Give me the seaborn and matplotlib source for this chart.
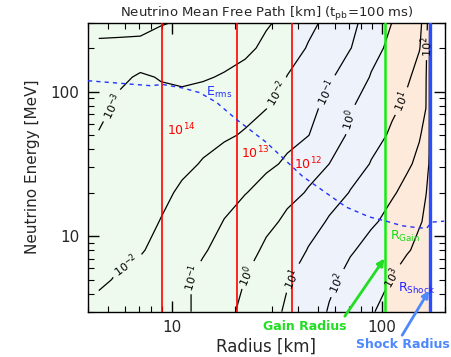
import numpy as np
import matplotlib
matplotlib.use('Agg')
import matplotlib.pyplot as plt
from matplotlib.ticker import NullFormatter
import seaborn as sns

# grid: log10 of mean free path [km]
radius_km = [4.5, 5.6, 7.1, 8.9, 11.2, 14.1, 17.8, 22.4, 28.2, 35.5, 44.7,
             56.2, 70.8, 89.1, 112, 132, 151, 162, 168, 174, 200]
energy_mev = [3, 5, 8, 12.6, 20, 31.6, 50, 79, 126, 200, 300]
log_mfp = [
    [-1.88, -1.70, -1.55, -1.35, -1.15, -0.78, -0.26, 0.25, 0.67, 1.13, 1.60, 2.06, 2.50, 2.93, 3.36, 3.60, 3.80, 3.90, 3.95, 4.5, 4.5],
    [-2.08, -1.95, -1.80, -1.48, -1.13, -0.81, -0.40, 0.00, 0.46, 0.92, 1.37, 1.82, 2.24, 2.63, 3.02, 3.29, 3.52, 3.64, 3.70, 4.5, 4.5],
    [-2.26, -2.13, -2.06, -1.77, -1.42, -1.08, -0.69, -0.31, 0.16, 0.58, 1.04, 1.47, 1.91, 2.30, 2.67, 2.94, 3.16, 3.27, 3.33, 4.5, 4.5],
    [-2.43, -2.28, -2.17, -1.98, -1.65, -1.34, -0.97, -0.65, -0.24, 0.19, 0.64, 1.09, 1.47, 1.86, 2.31, 2.65, 2.94, 3.09, 3.15, 4.5, 4.5],
    [-2.61, -2.44, -2.31, -2.15, -1.89, -1.64, -1.34, -1.03, -0.70, -0.30, 0.08, 0.56, 1.04, 1.46, 1.88, 2.31, 2.76, 2.98, 3.10, 4.5, 4.5],
    [-2.78, -2.61, -2.50, -2.40, -2.18, -1.94, -1.72, -1.47, -1.18, -0.86, -0.43, 0.00, 0.53, 1.05, 1.50, 1.81, 2.29, 2.77, 3.02, 4.5, 4.5],
    [-2.96, -2.77, -2.66, -2.61, -2.49, -2.30, -2.11, -1.92, -1.62, -1.30, -1.02, -0.44, 0.14, 0.64, 1.15, 1.55, 1.89, 2.40, 2.95, 4.5, 4.5],
    [-3.25, -2.87, -2.81, -2.78, -2.79, -2.69, -2.52, -2.33, -2.05, -1.64, -1.25, -0.75, -0.08, 0.38, 0.80, 1.20, 1.70, 1.95, 2.90, 4.5, 4.5],
    [-3.58, -3.15, -2.90, -3.05, -3.13, -3.07, -2.93, -2.74, -2.42, -1.98, -1.55, -1.12, -0.55, 0.06, 0.52, 0.84, 1.40, 1.88, 2.90, 4.5, 4.5],
    [-3.90, -3.81, -3.67, -3.60, -3.53, -3.47, -3.42, -3.20, -2.79, -2.36, -1.94, -1.48, -1.03, -0.34, 0.27, 0.63, 0.94, 1.64, 2.85, 4.5, 4.5],
    [-4.20, -4.32, -4.45, -4.07, -3.90, -3.83, -3.87, -3.60, -3.12, -2.68, -2.23, -1.74, -1.21, -0.62, 0.01, 0.46, 0.84, 1.30, 2.75, 4.5, 4.5],
]
contour_levels = [-4, -3, -2, -1, 0, 1, 2, 3]
label_spots = [(5.7, 75), (6.1, 6.3), (31.5, 98), (12.6, 5.1), (54, 100), (22.7, 5.3),
               (68, 65), (37, 5.1), (128, 84), (61, 4.7), (164, 205), (112, 5.1)]

# rms energy curve
erms_radius = [4.0, 7.9, 9.1, 11.3, 13.6, 16.4, 20.4, 23.5, 28.2, 41.9, 67.7, 87, 105, 125, 151, 164, 173, 198]
erms_energy = [119, 110, 112, 106, 98.4, 84, 64, 54.7, 44.6, 26, 15.9, 13.6, 12.7, 11.8, 11.4, 11.4, 12.5, 12.7]

density_radius = [9.0, 20.5, 37.5]
density_labels = ['10$^{14}$', '10$^{13}$', '10$^{12}$']
density_label_pos = [(9.5, 54), (21.5, 37.4), (38.4, 31.5)]
gain_radius = 104
shock_radius = 169

sns.set_style('ticks')
plt.rcParams['font.family'] = ['DejaVu Sans']

fig = plt.figure(figsize=(4.52, 3.57), dpi=100)
ax = fig.add_axes([88 / 452, 1 - 311.7 / 357, (445 - 88) / 452, (311.7 - 22.7) / 357])
ax.set_xscale('log')
ax.set_yscale('log')
ax.set_xlim(4, 200)
ax.set_ylim(3, 300)

ax.axvspan(4, density_radius[2], color='#eefaee', lw=0, zorder=0)
ax.axvspan(density_radius[2], gain_radius, color='#edf2fb', lw=0, zorder=0)
ax.axvspan(gain_radius, shock_radius, color='#fdeadb', lw=0, zorder=0)

cs = ax.contour(radius_km, energy_mev, np.array(log_mfp), levels=contour_levels,
                colors='k', linewidths=0.9, linestyles='solid',
                negative_linestyles='solid')
ax.clabel(cs, fmt=lambda v: r'$10^{%d}$' % int(round(v)), manual=label_spots,
          inline=True, fontsize=8)

for r, lab, pos in zip(density_radius, density_labels, density_label_pos):
    ax.axvline(r, color='#ff0000', lw=1.2, zorder=3)
    ax.text(pos[0], pos[1], lab, color='#ff0000', fontsize=9, va='center', zorder=4)
ax.axvline(gain_radius, color='#11ee11', lw=1.8, zorder=3)
ax.axvline(shock_radius, color='#2a4dff', lw=2.4, zorder=3)

sns.lineplot(x=erms_radius, y=erms_energy, ax=ax, color='#2233ff', lw=1,
             linestyle=(0, (3, 3)), zorder=4)
ax.text(14.6, 98, r'E$_{\rm rms}$', color='#2233ff', fontsize=9, va='center')
ax.text(110, 9.9, r'R$_{\rm Gain}$', color='#11dd11', fontsize=9, va='center')
ax.text(120, 4.33, r'R$_{\rm Shock}$', color='#2222ff', fontsize=9, va='center')

ax.annotate('Gain Radius', xy=(103, 7.0), xytext=(305, 31), textcoords='figure pixels',
            ha='center', va='center', color='#22dd22', fontsize=9, fontweight='bold',
            arrowprops=dict(arrowstyle='-|>', color='#22dd22', lw=2, mutation_scale=10,
                            shrinkA=0, shrinkB=0, relpos=(0.95, 1.0)),
            annotation_clip=False)
ax.annotate('Shock Radius', xy=(168, 4.2), xytext=(403, 12), textcoords='figure pixels',
            ha='center', va='center', color='#4d88ff', fontsize=9, fontweight='bold',
            arrowprops=dict(arrowstyle='-|>', color='#4d88ff', lw=2, mutation_scale=10,
                            shrinkA=0, shrinkB=0, relpos=(0.47, 1.0)),
            annotation_clip=False)

ax.set_xticks([10, 100], labels=['10', '100'])
ax.set_yticks([10, 100], labels=['10', '100'])
ax.xaxis.set_minor_formatter(NullFormatter())
ax.yaxis.set_minor_formatter(NullFormatter())
ax.tick_params(which='both', direction='in', top=True, right=True, color='k')
ax.tick_params(which='major', length=8, width=1, labelsize=11, pad=6)
ax.tick_params(which='minor', length=4, width=0.8)
for s in ax.spines.values():
    s.set_color('k')
    s.set_linewidth(1)

ax.set_xlabel('Radius [km]', fontsize=12, labelpad=2)
ax.set_ylabel('Neutrino Energy [MeV]', fontsize=11, labelpad=8)
ax.set_title(r'Neutrino Mean Free Path [km] (t$_{\rm pb}$=100 ms)', fontsize=9.5, pad=4)

fig.savefig('out.png', dpi=100)
